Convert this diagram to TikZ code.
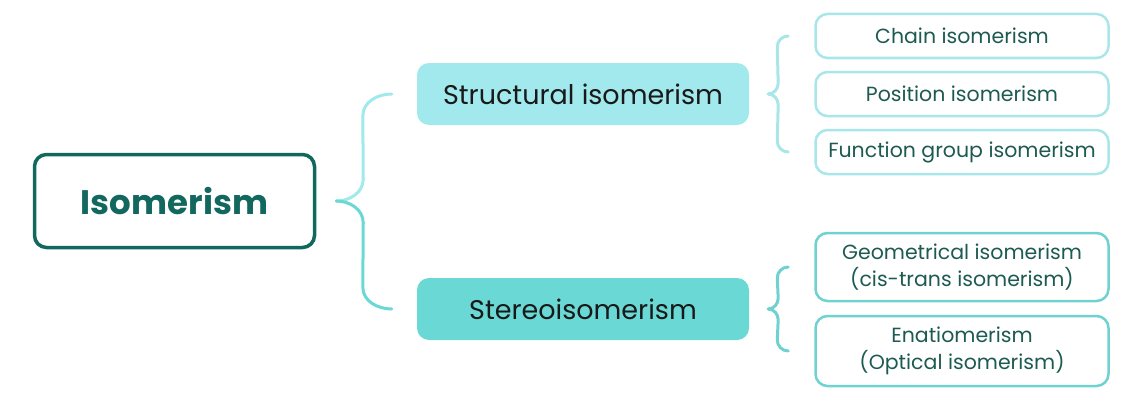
\documentclass[tikz,border=0pt]{standalone}
\usepackage{fontspec}
\setmainfont{Poppins}
\definecolor{isoteal}{HTML}{12675F}
\definecolor{structfill}{HTML}{A1E9ED}
\definecolor{stereofill}{HTML}{6AD8D5}
\definecolor{structline}{HTML}{A8E6EA}
\definecolor{stereoline}{HTML}{70D2D0}
\definecolor{typetext}{HTML}{1D5A52}

\begin{document}
\begin{tikzpicture}[
            x=1pt, y=1pt,
            mainbox/.style = {
                draw=isoteal,
                line width=3.5pt,
                rounded corners=12pt,
                minimum width=280pt,
                minimum height=93pt,
                text=isoteal,
                font=\fontsize{34}{38}\selectfont\bfseries
            },
            groupbox/.style = {
                rounded corners=12pt,
                minimum width=332pt,
                minimum height=62pt,
                text=black!90,
                font=\fontsize{27}{30}\selectfont
            },
            typebox/.style = {
                draw,
                line width=2.5pt,
                rounded corners=12pt,
                minimum width=293pt,
                text=typetext,
                align=center,
                font=\fontsize{20.5}{27}\selectfont
            },
            brace/.style = {
                line width=3pt,
                line cap=round
            }
        ]
            \useasboundingbox (0,0) rectangle (1143,400);

            \node[mainbox] (iso) at (174.5,199) {Isomerism};

            \node[groupbox, fill=structfill] (struct) at (583,306) {Structural isomerism};
            \node[groupbox, fill=stereofill] (stereo) at (583,91) {Stereoisomerism};

            \node[typebox, draw=structline, minimum height=44pt] (chain) at (962,364) {Chain isomerism};
            \node[typebox, draw=structline, minimum height=44pt] (position) at (962,306) {Position isomerism};
            \node[typebox, draw=structline, minimum height=44pt] (function) at (962,248) {Function group isomerism};

            \node[typebox, draw=stereoline, minimum height=68pt] (geo) at (962,133) {Geometrical isomerism\\(cis-trans isomerism)};
            \node[typebox, draw=stereoline, minimum height=70pt] (enatio) at (962,49) {Enatiomerism\\(Optical isomerism)};

            \coordinate (b1tip) at ([xshift=20pt]iso.east);
            \coordinate (b1top) at ([xshift=-25pt]struct.west);
            \coordinate (b1bot) at ([xshift=-25pt]stereo.west);
            \draw[brace, draw=structfill] (b1tip) to[out=0,in=-90] ++(27,22) -- ([shift={(-29,-22)}]b1top) to[out=90,in=180] (b1top);
            \draw[brace, draw=stereofill] (b1tip) to[out=0,in=90] ++(27,-22) -- ([shift={(-29,22)}]b1bot) to[out=-90,in=180] (b1bot);

            \coordinate (b2tip) at ([xshift=19pt]struct.east);
            \coordinate (b2top) at ([xshift=-26pt]chain.west);
            \coordinate (b2bot) at ([xshift=-26pt]function.west);
            \draw[brace, draw=structline] (b2tip) to[out=0,in=-90] ++(10,11) -- ([shift={(-11,-11)}]b2top) to[out=90,in=180] (b2top);
            \draw[brace, draw=structline] (b2tip) to[out=0,in=90] ++(10,-11) -- ([shift={(-11,11)}]b2bot) to[out=-90,in=180] (b2bot);

            \coordinate (b3tip) at ([xshift=19pt]stereo.east);
            \coordinate (b3top) at ([xshift=-26pt]geo.west);
            \coordinate (b3bot) at ([xshift=-26pt]enatio.west);
            \draw[brace, draw=stereoline] (b3tip) to[out=0,in=-90] ++(10,11) -- ([shift={(-11,-11)}]b3top) to[out=90,in=180] (b3top);
            \draw[brace, draw=stereoline] (b3tip) to[out=0,in=90] ++(10,-11) -- ([shift={(-11,11)}]b3bot) to[out=-90,in=180] (b3bot);

        \end{tikzpicture}
\end{document}
